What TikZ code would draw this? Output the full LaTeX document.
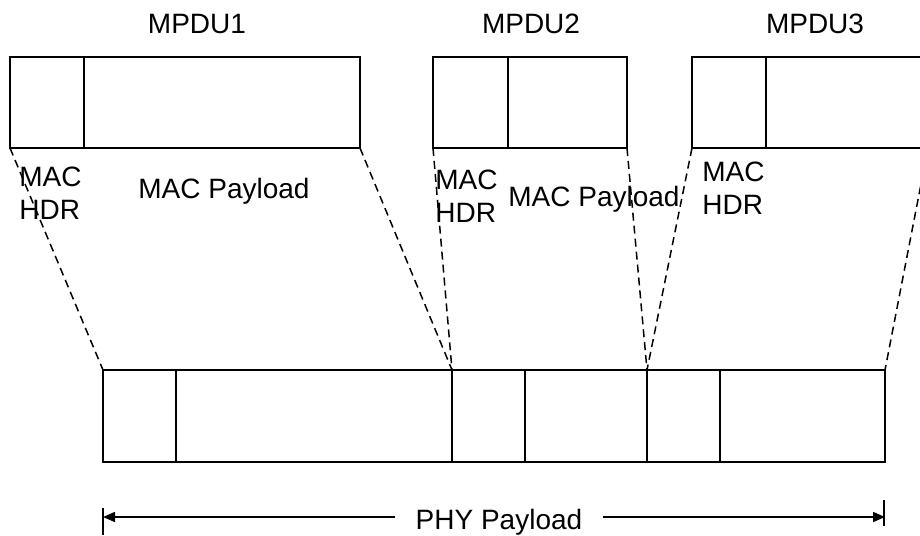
\documentclass[tikz,border=0pt]{standalone}
\usepackage{fontspec}
\setmainfont{Liberation Sans}
\usetikzlibrary{arrows.meta}
\begin{document}
\begin{tikzpicture}[x=0.5pt,y=-0.5pt,
  cell/.style={draw,line width=1pt,inner sep=0pt,outer sep=0pt,anchor=north west},
  tophgt/.style={minimum height=45.5pt},
  bothgt/.style={minimum height=46pt},
  conn/.style={line width=0.75pt,dash pattern=on 4pt off 2.5pt},
  lbl/.style={font=\fontsize{14}{16.5}\selectfont,inner sep=0pt,align=left},
  dim/.style={line width=0.75pt},
  tip/.style={-{Triangle[length=6pt,width=5pt]}}]
\useasboundingbox (0,0) rectangle (920,535);
\clip (0,0) rectangle (920,535);
% top MPDUs
\node[cell,tophgt,minimum width=37pt] (h1) at (10,57) {};
\node[cell,tophgt,minimum width=138pt] (p1) at (84,57) {};
\node[cell,tophgt,minimum width=37.5pt] (h2) at (433,57) {};
\node[cell,tophgt,minimum width=59.5pt] (p2) at (508,57) {};
\node[cell,tophgt,minimum width=37pt] (h3) at (692,57) {};
\node[cell,tophgt,minimum width=81pt] (p3) at (766,57) {};
% bottom PHY
\node[cell,bothgt,minimum width=36.5pt] (H1) at (103,370) {};
\node[cell,bothgt,minimum width=138pt] (P1) at (176,370) {};
\node[cell,bothgt,minimum width=36.5pt] (H2) at (452,370) {};
\node[cell,bothgt,minimum width=61pt] (P2) at (525,370) {};
\node[cell,bothgt,minimum width=36.5pt] (H3) at (647,370) {};
\node[cell,bothgt,minimum width=82.5pt] (P3) at (720,370) {};
% dashed connectors
\draw[conn] (h1.south west) -- (H1.north west);
\draw[conn] (p1.south east) -- (P1.north east);
\draw[conn] (h2.south west) -- (H2.north west);
\draw[conn] (p2.south east) -- (P2.north east);
\draw[conn] (h3.south west) -- (H3.north west);
\draw[conn] (p3.south east) -- (P3.north east);
% labels
\node[lbl] (m1) at (197,24) {MPDU1};
\node[lbl] (m2) at (531,24) {MPDU2};
\node[lbl] (m3) at (815,24) {MPDU3};
\node[lbl,anchor=west] (hd1) at (19,193) {MAC\\HDR};
\node[lbl] (pl1) at (224,191) {MAC Payload};
\node[lbl,anchor=west] (hd2) at (435,196) {MAC\\HDR};
\node[lbl] (pl2) at (594,199) {MAC Payload};
\node[lbl,anchor=west] (hd3) at (702,188) {MAC\\HDR};
% PHY payload dimension
\node[lbl,inner xsep=10pt] (phy) at (499,522) {PHY Payload};
\coordinate (L) at (103,517);
\coordinate (R) at (885,517);
\coordinate (Lt) at (103,508);
\coordinate (Lb) at (103,535);
\coordinate (Rt) at (884,500);
\coordinate (Rb) at (884,526);
\draw[dim,tip] (phy.west |- L) -- (L);
\draw[dim,tip] (phy.east |- R) -- (R);
\draw[dim] (Lt) -- (Lb);
\draw[dim] (Rt) -- (Rb);
\end{tikzpicture}
\end{document}
